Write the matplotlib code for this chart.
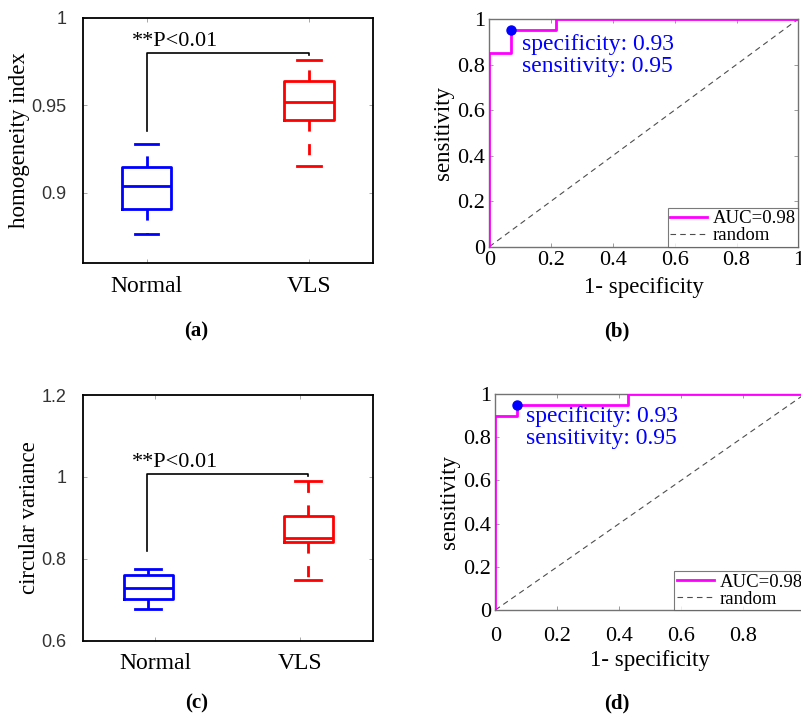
import matplotlib
matplotlib.use("Agg")
import matplotlib.pyplot as plt

# group names on the box plots
groups = ["Normal", "VLS"]

# box summaries as [whislo, q1, median, q3, whishi]
homog_normal = [0.8765, 0.891, 0.9038, 0.9147, 0.928]
homog_vls = [0.9156, 0.9414, 0.9519, 0.9636, 0.976]
circ_normal = [0.678, 0.702, 0.729, 0.760, 0.775]
circ_vls = [0.749, 0.841, 0.851, 0.905, 0.990]

# ROC curves (false positive rate, true positive rate)
roc_b_fpr = [0, 0, 1 / 14, 1 / 14, 3 / 14, 3 / 14, 1]
roc_b_tpr = [0, 0.85, 0.85, 0.95, 0.95, 1, 1]
roc_d_fpr = [0, 0, 1 / 14, 1 / 14, 6 / 14, 6 / 14, 1]
roc_d_tpr = [0, 0.90, 0.90, 0.95, 0.95, 1, 1]
auc_b = 0.98
auc_d = 0.98
cut_specificity = 0.93
cut_sensitivity = 0.95

SERIF = ["Liberation Serif", "DejaVu Serif"]
SANS = ["Liberation Sans Narrow", "Liberation Sans", "DejaVu Sans"]
plt.rcParams["lines.scale_dashes"] = False

fig = plt.figure(figsize=(8.01, 7.15), dpi=100)


def px_axes(x0, y0, x1, y1):
    W, H = 801, 715
    return fig.add_axes([x0 / W, 1 - y1 / H, (x1 - x0) / W, (y1 - y0) / H])


def stat(v, label):
    return dict(whislo=v[0], q1=v[1], med=v[2], q3=v[3], whishi=v[4], fliers=[], label=label)


def box_panel(ax, normal, vls, pos, width, capw, ylim, yticks, yticklabels, ylabel,
              xticks, xlim, bracket, ptext_xy):
    for v, p, c, lab in [(normal, pos[0], "blue", groups[0]), (vls, pos[1], "red", groups[1])]:
        ax.bxp([stat(v, lab)], positions=[p], widths=width, capwidths=capw, showfliers=False,
               boxprops=dict(color=c, lw=2), medianprops=dict(color=c, lw=2),
               whiskerprops=dict(color=c, lw=2, linestyle=(0, (8, 9))),
               capprops=dict(color=c, lw=2), manage_ticks=False)
    bx0, bx1, by0, ytop, by1 = bracket
    ax.plot([bx0, bx0, bx1, bx1], [by0, ytop, ytop, by1], color="black", lw=1.2)
    ax.text(ptext_xy[0], ptext_xy[1], "**P<0.01", family=SERIF, fontsize=16,
            ha="left", va="center")
    ax.set_xlim(*xlim)
    ax.set_ylim(*ylim)
    ax.set_xticks(xticks)
    ax.set_xticklabels(groups, family=SERIF, fontsize=17)
    ax.set_yticks(yticks)
    ax.set_yticklabels(yticklabels, family=SANS, fontsize=13, color="0.2")
    ax.set_ylabel(ylabel, family=SERIF, fontsize=16.5, labelpad=1)
    ax.tick_params(direction="in", length=3, width=0.6, color="0.6", top=True, right=True,
                   labeltop=False, labelright=False)
    ax.tick_params(axis="x", pad=9)
    ax.tick_params(axis="y", pad=12)
    for s in ax.spines.values():
        s.set_linewidth(1.3)


def roc_panel(ax, fpr, tpr, auc, text_xy, xpad, xlabelpad):
    ax.plot([0, 1], [0, 1], color="0.3", lw=0.8, linestyle=(0, (4, 3)), label="random", zorder=2)
    ax.plot(fpr, tpr, color="magenta", lw=2.0, label=f"AUC={auc:.2f}", zorder=3)
    ax.plot([1 - cut_specificity], [cut_sensitivity], "o", color="blue", ms=6.5, zorder=4)
    ax.text(text_xy[0], text_xy[1],
            f"specificity: {cut_specificity:.2f}\nsensitivity: {cut_sensitivity:.2f}",
            color="blue", family=SERIF, fontsize=17, ha="left", va="top", linespacing=1.1)
    h, l = ax.get_legend_handles_labels()
    leg = ax.legend(h[::-1], l[::-1], loc="lower right", bbox_to_anchor=(1, 0),
                    borderaxespad=0, frameon=True, fancybox=False, prop=dict(family=SERIF, size=13.5),
                    handlelength=2.0, handletextpad=0.3, borderpad=0.12, labelspacing=0.0)
    leg.get_frame().set_edgecolor("0.35")
    leg.get_frame().set_linewidth(0.8)
    leg.set_zorder(5)
    ax.set_xlim(0, 1)
    ax.set_ylim(0, 1)
    ticks = [0, 0.2, 0.4, 0.6, 0.8, 1]
    labels = ["0", "0.2", "0.4", "0.6", "0.8", "1"]
    ax.set_xticks(ticks)
    ax.set_xticklabels(labels, family=SERIF, fontsize=16)
    ax.set_yticks(ticks)
    ax.set_yticklabels(labels, family=SERIF, fontsize=16)
    ax.set_xlabel("1- specificity", family=SERIF, fontsize=16.5, labelpad=xlabelpad)
    ax.set_ylabel("sensitivity", family=SERIF, fontsize=16.5, labelpad=2)
    ax.tick_params(direction="in", length=3, width=0.6, color="0.55", top=True, right=True,
                   pad=3)
    ax.tick_params(axis="x", pad=xpad)
    for s in ax.spines.values():
        s.set_color("0.45")
        s.set_linewidth(1.0)


ax_a = px_axes(83, 17.5, 373, 263)
box_panel(ax_a, homog_normal, homog_vls, pos=(1, 2), width=0.305, capw=0.144,
          ylim=(0.86, 1.0), yticks=[0.9, 0.95, 1.0], yticklabels=["0.9", "0.95", "1"],
          ylabel="homogeneity index", xticks=[1, 2], xlim=(0.608, 2.394),
          bracket=(1, 2, 0.9353, 0.9798, 0.9786), ptext_xy=(0.91, 0.9865))

ax_b = px_axes(489.3, 19, 798.3, 246.7)
roc_panel(ax_b, roc_b_fpr, roc_b_tpr, auc_b, text_xy=(0.105, 0.935), xpad=3, xlabelpad=5)

ax_c = px_axes(83, 395, 372.7, 640.7)
box_panel(ax_c, circ_normal, circ_vls, pos=(0.95, 2.055), width=0.336, capw=0.177,
          ylim=(0.6, 1.2), yticks=[0.6, 0.8, 1.0, 1.2], yticklabels=["0.6", "0.8", "1", "1.2"],
          ylabel="circular variance", xticks=[1, 2], xlim=(0.5, 2.5),
          bracket=(0.94, 2.05, 0.818, 1.007, 1.002), ptext_xy=(0.84, 1.035))

ax_d = px_axes(495.3, 394, 805, 610)
roc_panel(ax_d, roc_d_fpr, roc_d_tpr, auc_d, text_xy=(0.10, 0.945), xpad=12, xlabelpad=3)

for lab, x, y in [("(a)", 196, 331), ("(b)", 617, 331), ("(c)", 197, 703), ("(d)", 617, 703)]:
    fig.text(x / 801, 1 - y / 715, lab, family=SERIF, fontsize=15, weight="bold",
             ha="center", va="center")

fig.savefig("out.png", dpi=100)
